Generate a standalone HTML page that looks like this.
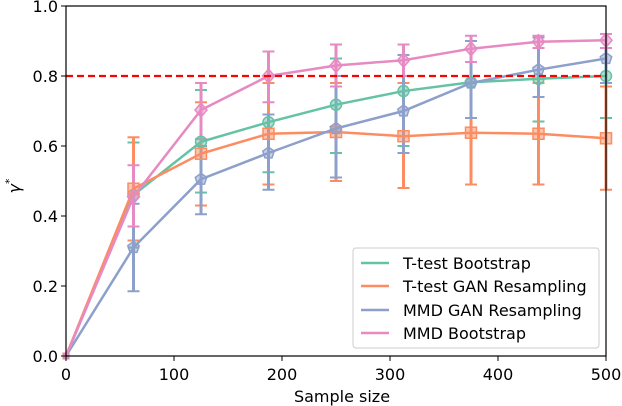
<!DOCTYPE html>
<html><head><meta charset="utf-8"><style>
body{margin:0;background:#fff;}
svg{display:block;font-family:"DejaVu Sans","Liberation Sans",sans-serif;}
</style></head><body>
<svg id="s" width="622" height="406" viewBox="0 0 622 406" xmlns="http://www.w3.org/2000/svg">
<rect width="622" height="406" fill="#fff"/>
<g id="plot"></g>
<line x1="66" y1="76" x2="606" y2="76" stroke="#ff0000" stroke-width="2.2" stroke-dasharray="7,4"/>
<rect x="66" y="6" width="540" height="350" fill="none" stroke="#000" stroke-width="1.2"/>
<g font-size="16" fill="#000">
<text x="66" y="380" text-anchor="middle">0</text>
<text x="174" y="380" text-anchor="middle">100</text>
<text x="282" y="380" text-anchor="middle">200</text>
<text x="390" y="380" text-anchor="middle">300</text>
<text x="498" y="380" text-anchor="middle">400</text>
<text x="606" y="380" text-anchor="middle">500</text>
<text x="58" y="362" text-anchor="end">0.0</text>
<text x="58" y="292" text-anchor="end">0.2</text>
<text x="58" y="222" text-anchor="end">0.4</text>
<text x="58" y="152" text-anchor="end">0.6</text>
<text x="58" y="82" text-anchor="end">0.8</text>
<text x="58" y="12" text-anchor="end">1.0</text>
<text x="342" y="402" text-anchor="middle">Sample size</text>
<text transform="translate(20,186) rotate(-90)" text-anchor="middle" font-style="italic">γ<tspan font-size="11" dy="-7" font-style="normal">*</tspan></text>
</g>
<g id="tk" stroke="#000" stroke-width="1"></g>
<rect x="353" y="248" width="246" height="100" rx="3" fill="#fff" fill-opacity="0.85" stroke="#ccc"/>
<g font-size="16" fill="#000">
<line x1="361" y1="263" x2="389" y2="263" stroke="#66c2a5" stroke-width="2.5"/><text x="403" y="269">T-test Bootstrap</text>
<line x1="361" y1="286" x2="389" y2="286" stroke="#fc8d62" stroke-width="2.5"/><text x="403" y="292">T-test GAN Resampling</text>
<line x1="361" y1="310" x2="389" y2="310" stroke="#8da0cb" stroke-width="2.5"/><text x="403" y="316">MMD GAN Resampling</text>
<line x1="361" y1="333" x2="389" y2="333" stroke="#e78ac3" stroke-width="2.5"/><text x="403" y="339">MMD Bootstrap</text>
</g>
</svg>
<script>
var NS="http://www.w3.org/2000/svg";
function X(v){return 66+v*1.08;}function Y(v){return 356-v*350;}
var xs=[0,62.5,125,187.5,250,312.5,375,437.5,500];
var S=[
{c:"#66c2a5",m:"o",y:[0,.46,.612,.668,.718,.757,.782,.792,.80],lo:[0,.31,.467,.525,.58,.6,.68,.67,.68],hi:[0,.61,.76,.80,.85,.89,.9,.91,.92]},
{c:"#fc8d62",m:"s",y:[0,.478,.578,.635,.64,.628,.638,.635,.622],lo:[0,.33,.43,.49,.5,.48,.49,.49,.475],hi:[0,.625,.725,.78,.78,.78,.78,.78,.77]},
{c:"#8da0cb",m:"p",y:[0,.31,.505,.58,.65,.70,.78,.818,.85],lo:[0,.185,.405,.475,.51,.58,.68,.74,.78],hi:[0,.435,.6,.69,.8,.86,.9,.91,.92]},
{c:"#e78ac3",m:"d",y:[0,.455,.703,.80,.83,.845,.878,.898,.902],lo:[0,.37,.62,.725,.77,.8,.84,.88,.88],hi:[0,.545,.78,.87,.89,.89,.915,.915,.92]}];
var g=document.getElementById("plot");
function el(t,a){var e=document.createElementNS(NS,t);for(var k in a)e.setAttribute(k,a[k]);g.appendChild(e);return e;}
S.forEach(function(s){
 for(var i=1;i<9;i++){var x=X(xs[i]);
  el("line",{x1:x,x2:x,y1:Y(s.lo[i]),y2:Y(s.hi[i]),stroke:s.c,"stroke-width":3});
  el("line",{x1:x-6,x2:x+6,y1:Y(s.lo[i]),y2:Y(s.lo[i]),stroke:s.c,"stroke-width":2});
  el("line",{x1:x-6,x2:x+6,y1:Y(s.hi[i]),y2:Y(s.hi[i]),stroke:s.c,"stroke-width":2});}
});
S.forEach(function(s){
 el("polyline",{points:xs.map(function(v,i){return X(v)+","+Y(s.y[i]);}).join(" "),fill:"none",stroke:s.c,"stroke-width":2.5});
 for(var i=0;i<9;i++){var x=X(xs[i]),y=Y(s.y[i]),a={fill:s.c,"fill-opacity":0.5,stroke:s.c,"stroke-width":1.5};
  var r=i==0?0.5:1;
  if(s.m=="o"){a.cx=x;a.cy=y;a.r=5.5*r;el("circle",a);}
  else if(s.m=="s"){a.x=x-5.5*r;a.y=y-5.5*r;a.width=11*r;a.height=11*r;el("rect",a);}
  else if(s.m=="d"){a.points=[x,y-7*r,x+6*r,y,x,y+7*r,x-6*r,y].join(" ");el("polygon",a);}
  else{var p=[];for(var k=0;k<5;k++){var t=-Math.PI/2+k*2*Math.PI/5;p.push(x+6*r*Math.cos(t),y+6*r*Math.sin(t));}a.points=p.join(" ");el("polygon",a);}
 }
});
var tk=document.getElementById("tk");
for(var i=0;i<=5;i++){var a=document.createElementNS(NS,"line");a.setAttribute("x1",66+i*108);a.setAttribute("x2",66+i*108);a.setAttribute("y1",356);a.setAttribute("y2",361);tk.appendChild(a);
var b=document.createElementNS(NS,"line");b.setAttribute("x1",61);b.setAttribute("x2",66);b.setAttribute("y1",356-i*70);b.setAttribute("y2",356-i*70);tk.appendChild(b);}
</script>
</body></html>
